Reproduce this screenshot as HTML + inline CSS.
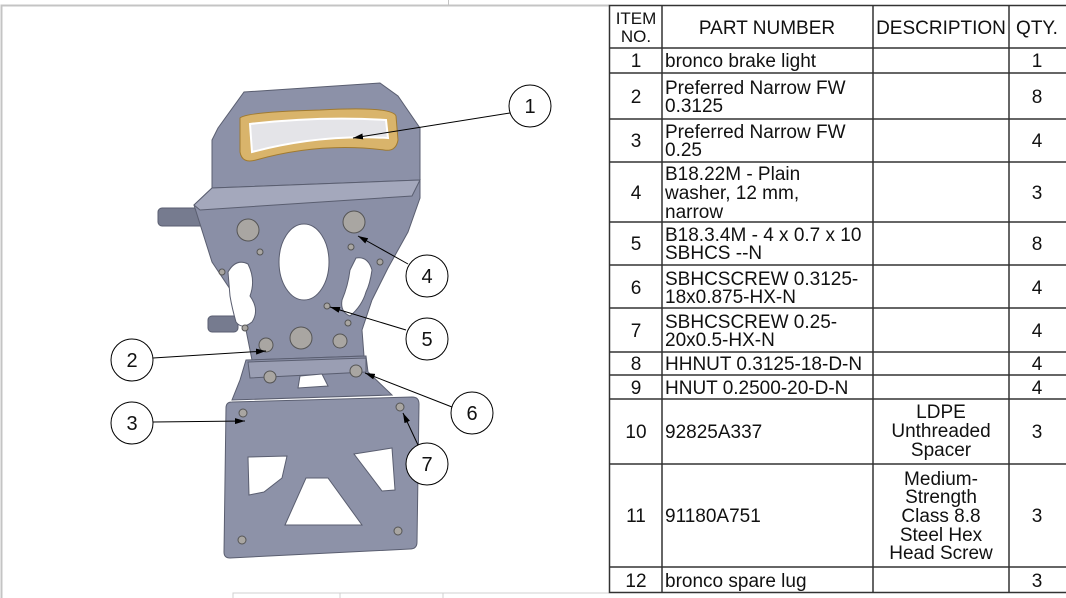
<!DOCTYPE html>
<html><head><meta charset="utf-8"><style>
html,body{margin:0;padding:0;background:#fff;width:1066px;height:598px;overflow:hidden}
svg{display:block}
text{font-family:"Liberation Sans",sans-serif;fill:#111}
</style></head><body>
<svg width="1066" height="598" viewBox="0 0 1066 598" xmlns="http://www.w3.org/2000/svg">
<defs><marker id="ar" viewBox="0 0 10 6" refX="10" refY="3" markerWidth="10" markerHeight="6" orient="auto" markerUnits="userSpaceOnUse"><path d="M0,0L10,3L0,6z" fill="#000"/></marker></defs>
<!-- frame -->
<path d="M1.5,598V5.5H609" stroke="#c4c4c4" stroke-width="2" fill="none"/>
<line x1="448.5" y1="0" x2="448.5" y2="5" stroke="#c4c4c4"/>
<path d="M233,598V593H609M340,593V598M443,593V598" stroke="#d0d0d0" fill="none"/>

<!-- part drawing -->
<g stroke="#5a5e70" stroke-width="1">
<!-- side lugs -->
<rect x="158" y="208" width="50" height="18" rx="4" fill="#767b8f"/>
<rect x="208" y="316" width="30" height="16" rx="4" fill="#767b8f"/>
<!-- top light housing -->
<path d="M218,128 L244,92 L380,83 L398,96 L420,128 L420,182 L212,190 L212,140 Z" fill="#8c91a8"/>
<!-- main bracket -->
<path d="M194,205 L212,188 L420,180 L420,198 L408,232 L388,268 L372,300 L362,330 L364,356 L252,360 L246,330 L236,298 L212,262 Z" fill="#8a8fa6"/>
<path d="M194,205 L212,188 L420,180 L412,196 L200,210 Z" fill="#a4a8bc"/>
<!-- lower tab -->
<path d="M246,360 L366,356 L368,372 L392,395 L232,400 L240,380 Z" fill="#8a8fa6"/>
<path d="M248,362 L366,358 L366,372 L250,378 Z" fill="#9a9eb3"/>
<!-- license plate -->
<path d="M232,402 L412,397 Q419,397 419,404 L417,542 Q417,549 410,549 L230,558 Q224,558 224,552 L226,408 Q226,402 232,402 Z" fill="#8d92a8"/>
</g>
<!-- light lens -->
<path d="M240,118 Q246,112 320,110 Q392,106 396,116 L398,140 Q396,152 384,150 Q320,142 256,160 Q242,164 240,152 Z" fill="#d9b46b" stroke="#a07a30"/>
<path d="M250,124 Q320,116 386,120 L388,138 Q320,134 252,152 Z" fill="#e4e4e8" stroke="#fff" stroke-width="2"/>
<!-- holes / cutouts -->
<g fill="#fff" stroke="#5a5e70">
<ellipse cx="304" cy="262" rx="25" ry="38"/>
<path d="M228,272 Q236,258 248,264 Q256,280 250,296 Q260,310 252,322 Q242,330 236,322 Q232,308 230,296 Z"/>
<path d="M356,258 Q368,256 372,270 Q370,284 366,292 Q362,306 350,316 Q340,312 342,300 Q348,286 350,270 Z"/>
<path d="M248,457 L287,456 L282,478 L264,492 L249,495 Z"/>
<path d="M354,454 L392,448 L395,490 L382,491 Z"/>
<path d="M285,525 L306,478 L328,478 L362,525 Z"/>
<path d="M300,376 L322,374 L328,386 L298,388 Z"/>
</g>
<!-- bolts -->
<g stroke="#555" fill="#a9a6a2">
<circle cx="248" cy="230" r="11"/><circle cx="354" cy="222" r="11"/><circle cx="301" cy="338" r="11"/>
<circle cx="266" cy="345" r="7"/><circle cx="340" cy="341" r="7"/>
<circle cx="270" cy="377" r="6"/><circle cx="356" cy="371" r="6"/>
<circle cx="243" cy="413" r="4"/><circle cx="400" cy="407" r="4"/><circle cx="242" cy="540" r="4"/><circle cx="398" cy="531" r="4"/>
<circle cx="222" cy="272" r="3"/><circle cx="380" cy="262" r="3"/><circle cx="245" cy="328" r="3"/><circle cx="327" cy="306" r="3"/><circle cx="348" cy="323" r="3"/><circle cx="260" cy="252" r="3"/><circle cx="351" cy="247" r="3"/>
</g>
<!-- leaders -->
<g stroke="#000" stroke-width="1" fill="none">
<line x1="510" y1="113" x2="353" y2="138" marker-end="url(#ar)"/>
<line x1="408" y1="264" x2="358" y2="236" marker-end="url(#ar)"/>
<line x1="406" y1="330" x2="330" y2="307" marker-end="url(#ar)"/>
<line x1="153" y1="358" x2="266" y2="351" marker-end="url(#ar)"/>
<line x1="153" y1="422" x2="245" y2="421" marker-end="url(#ar)"/>
<line x1="452" y1="407" x2="365" y2="373" marker-end="url(#ar)"/>
<line x1="418" y1="445" x2="403" y2="413" marker-end="url(#ar)"/>
</g>
<g stroke="#000" fill="#fff">
<circle cx="530" cy="106" r="21"/><circle cx="427" cy="276" r="21"/><circle cx="427" cy="339" r="21"/>
<circle cx="132" cy="360" r="21"/><circle cx="132" cy="423" r="21"/><circle cx="472" cy="413" r="21"/><circle cx="427" cy="464" r="21"/>
</g>
<g font-size="20" text-anchor="middle">
<text x="530" y="113">1</text><text x="427" y="283">4</text><text x="427" y="346">5</text>
<text x="132" y="367">2</text><text x="132" y="430">3</text><text x="472" y="420">6</text><text x="427" y="471">7</text>
</g>

<!-- BOM table -->
<g stroke="#333" stroke-width="1.5" fill="none">
<rect x="609.5" y="5.5" width="470" height="587"/>
<line x1="662" y1="5" x2="662" y2="593"/><line x1="873" y1="5" x2="873" y2="593"/><line x1="1009" y1="5" x2="1009" y2="593"/>
<path d="M609,48H1066M609,73H1066M609,119H1066M609,162H1066M609,222H1066M609,265H1066M609,308H1066M609,352H1066M609,375H1066M609,399H1066M609,464H1066M609,567H1066"/>
</g>
<g font-size="19">
<g text-anchor="middle">
<text x="636" y="24" font-size="17">ITEM</text><text x="636" y="42" font-size="17">NO.</text>
<text x="767" y="34">PART NUMBER</text><text x="941" y="34">DESCRIPTION</text><text x="1037" y="34">QTY.</text>
<text x="636" y="67">1</text><text x="636" y="103">2</text><text x="636" y="147">3</text><text x="636" y="199">4</text>
<text x="636" y="250">5</text><text x="636" y="294">6</text><text x="636" y="337">7</text><text x="636" y="370">8</text>
<text x="636" y="394">9</text><text x="636" y="438">10</text><text x="636" y="522">11</text><text x="636" y="587">12</text>
<text x="1037" y="67">1</text><text x="1037" y="103">8</text><text x="1037" y="147">4</text><text x="1037" y="199">3</text>
<text x="1037" y="250">8</text><text x="1037" y="294">4</text><text x="1037" y="337">4</text><text x="1037" y="370">4</text>
<text x="1037" y="394">4</text><text x="1037" y="438">3</text><text x="1037" y="522">3</text><text x="1037" y="587">3</text>
<text x="941" y="418">LDPE</text><text x="941" y="437">Unthreaded</text><text x="941" y="456">Spacer</text>
<text x="941" y="485">Medium-</text><text x="941" y="503">Strength</text><text x="941" y="522">Class 8.8</text><text x="941" y="541">Steel Hex</text><text x="941" y="559">Head Screw</text>
</g>
<g>
<text x="665" y="67">bronco brake light</text>
<text x="665" y="94">Preferred Narrow FW</text><text x="665" y="112">0.3125</text>
<text x="665" y="138">Preferred Narrow FW</text><text x="665" y="156">0.25</text>
<text x="665" y="180">B18.22M - Plain</text><text x="665" y="199">washer, 12 mm,</text><text x="665" y="218">narrow</text>
<text x="665" y="241">B18.3.4M - 4 x 0.7 x 10</text><text x="665" y="259">SBHCS --N</text>
<text x="665" y="285">SBHCSCREW 0.3125-</text><text x="665" y="303">18x0.875-HX-N</text>
<text x="665" y="328">SBHCSCREW 0.25-</text><text x="665" y="346">20x0.5-HX-N</text>
<text x="665" y="370">HHNUT 0.3125-18-D-N</text>
<text x="665" y="394">HNUT 0.2500-20-D-N</text>
<text x="665" y="438">92825A337</text>
<text x="665" y="522">91180A751</text>
<text x="665" y="587">bronco spare lug</text>
</g>
</g>
</svg>
</body></html>
